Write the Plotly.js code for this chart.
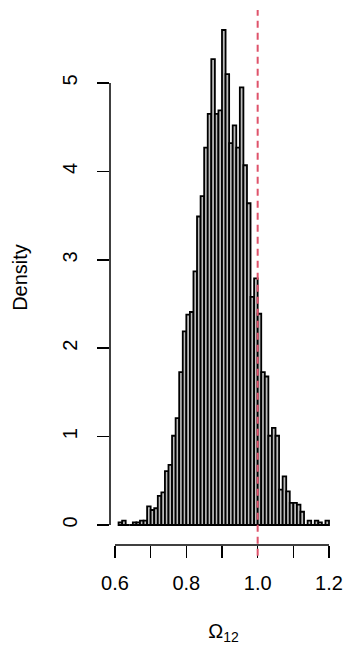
<!DOCTYPE html>
<html>
<head>
<meta charset="utf-8">
<script src="https://cdn.plot.ly/plotly-3.0.1.min.js"></script>
<style>
  html, body { margin: 0; padding: 0; background: #fff; }
  #plot { width: 345px; height: 645px; }
</style>
</head>
<body>
<div id="plot"></div>
<script>
// Histogram of Omega_12 draws: left edges of the 0.01-wide bins and their densities
const binLeft = [
  0.61, 0.62, 0.63, 0.64, 0.65, 0.66, 0.67, 0.68, 0.69, 0.70,
  0.71, 0.72, 0.73, 0.74, 0.75, 0.76, 0.77, 0.78, 0.79, 0.80,
  0.81, 0.82, 0.83, 0.84, 0.85, 0.86, 0.87, 0.88, 0.89, 0.90,
  0.91, 0.92, 0.93, 0.94, 0.95, 0.96, 0.97, 0.98, 0.99, 1.00,
  1.01, 1.02, 1.03, 1.04, 1.05, 1.06, 1.07, 1.08, 1.09, 1.10,
  1.11, 1.12, 1.13, 1.14, 1.15, 1.16, 1.17, 1.18, 1.19
];
const density = [
  0.03, 0.05, 0.00, 0.00, 0.03, 0.03, 0.05, 0.05, 0.21, 0.17,
  0.19, 0.33, 0.37, 0.61, 0.68, 1.01, 1.21, 1.73, 2.19, 2.38,
  2.41, 2.87, 3.49, 3.72, 4.27, 4.65, 5.27, 4.65, 4.69, 5.60,
  5.10, 4.32, 4.52, 4.27, 4.95, 4.07, 3.64, 2.58, 2.79, 2.39,
  1.73, 1.68, 1.01, 1.10, 1.01, 0.40, 0.55, 0.38, 0.25, 0.25,
  0.23, 0.15, 0.00, 0.05, 0.00, 0.05, 0.03, 0.00, 0.05
];
const binWidth = 0.01;
const refValue = 1.0;                  // dashed reference line
const xTicks = [0.6, 0.8, 1.0, 1.2];   // labelled x ticks
const xMinorTicks = [0.7, 0.9, 1.1];   // unlabelled x ticks
const yTicks = [0, 1, 2, 3, 4, 5];

const font = 'Liberation Sans, Arial, Helvetica, sans-serif';

const trace = {
  type: 'bar',
  x: binLeft.map(v => v + binWidth / 2),
  y: density,
  width: binLeft.map(() => binWidth),
  marker: { color: '#bdbdbd', line: { color: '#000', width: 1.8 } },
  hoverinfo: 'x+y'
};

const layout = {
  width: 345,
  height: 645,
  margin: { l: 110, r: 8, t: 10, b: 100 },
  paper_bgcolor: '#fff',
  plot_bgcolor: '#fff',
  showlegend: false,
  bargap: 0,
  font: { family: font, size: 20, color: '#000' },
  xaxis: {
    range: [0.586, 1.2224],
    showgrid: false, zeroline: false, showline: false,
    tickmode: 'array', tickvals: xTicks, ticktext: xTicks.map(v => v.toFixed(1)),
    ticks: 'outside', ticklen: 12, tickwidth: 1.5, tickcolor: '#000',
    minor: { tickmode: 'array', tickvals: xMinorTicks, ticks: 'outside', ticklen: 12, tickwidth: 1.5, tickcolor: '#000', showgrid: false },
    ticklabelstandoff: 8,
    tickfont: { family: font, size: 20, color: '#000' },
    title: { text: 'Ω<sub>12</sub>', font: { family: font, size: 20, color: '#000' }, standoff: 30 }
  },
  yaxis: {
    range: [-0.226, 5.826],
    showgrid: false, zeroline: false, showline: false,
    tickmode: 'array', tickvals: yTicks,
    ticks: 'outside', ticklen: 12, tickwidth: 1.5, tickcolor: '#000',
    tickangle: -90,
    ticklabelstandoff: 12,
    tickfont: { family: font, size: 20, color: '#000' },
    title: { text: 'Density', font: { family: font, size: 20, color: '#000' }, standoff: 26 }
  },
  shapes: [
    // axis lines spanning only the tick range
    { type: 'line', xref: 'x', yref: 'paper', x0: 0.6, x1: 1.2, y0: 0, y1: 0,
      line: { color: '#000', width: 1.5 } },
    { type: 'line', xref: 'paper', yref: 'y', x0: 0, x1: 0, y0: yTicks[0], y1: yTicks[yTicks.length - 1],
      line: { color: '#000', width: 1.5 } },
    // dashed vertical reference line
    { type: 'line', xref: 'x', yref: 'paper', x0: refValue, x1: refValue, y0: -0.02, y1: 1,
      line: { color: '#DF536B', width: 2, dash: '7px,5px' } }
  ]
};

Plotly.newPlot('plot', [trace], layout, { displayModeBar: false, staticPlot: true });
</script>
</body>
</html>
